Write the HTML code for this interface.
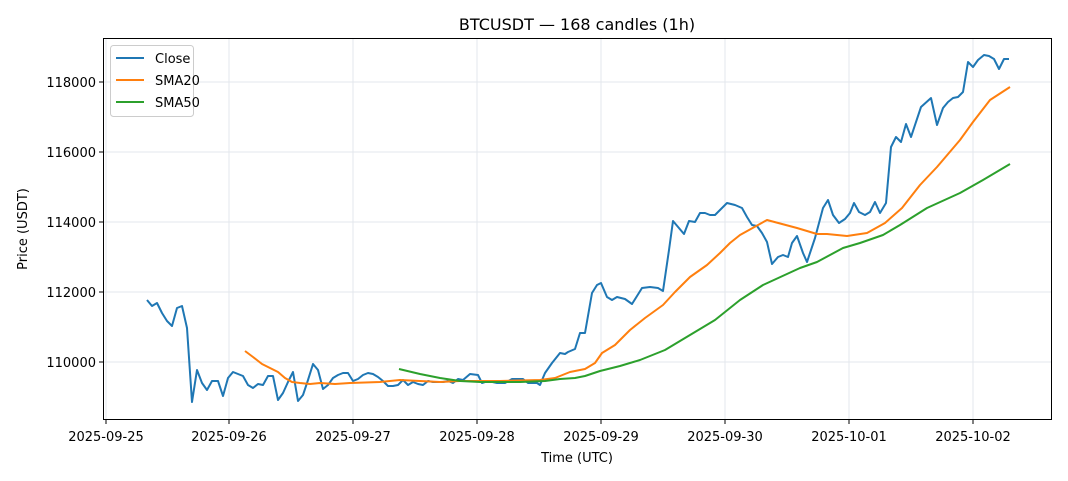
<!DOCTYPE html>
<html><head><meta charset="utf-8"><style>body{margin:0;background:#fff}svg{display:block;font-family:"DejaVu Sans","Liberation Sans",sans-serif}</style></head><body>
<svg width="1068" height="481" viewBox="0 0 1068 481">
<rect width="1068" height="481" fill="#fff"/>
<g stroke="#e3e7ec" stroke-width="1">
<line x1="106" y1="38" x2="106" y2="420"/><line x1="229" y1="38" x2="229" y2="420"/><line x1="353" y1="38" x2="353" y2="420"/><line x1="477" y1="38" x2="477" y2="420"/><line x1="601" y1="38" x2="601" y2="420"/><line x1="725" y1="38" x2="725" y2="420"/><line x1="849" y1="38" x2="849" y2="420"/><line x1="973" y1="38" x2="973" y2="420"/>
<line x1="103" y1="82" x2="1052" y2="82"/><line x1="103" y1="152" x2="1052" y2="152"/><line x1="103" y1="222" x2="1052" y2="222"/><line x1="103" y1="292" x2="1052" y2="292"/><line x1="103" y1="362" x2="1052" y2="362"/>
</g>
<g fill="none" stroke-width="2" stroke-linejoin="round">
<polyline stroke="#1f77b4" points="147,300 152,306 157,303 162,313 167,321 172,326 177,308 182,306 187,328 192,402 197,370 202,383 207,390 212,381 218,381 223,396 228,378 233,372 238,374 243,376 248,385 253,388 258,384 263,385 268,376 273,376 278,400 283,393 288,382 293,372 298,401 303,395 308,380 313,364 318,370 323,389 328,385 333,378 338,375 343,373 348,373 353,381 358,379 363,375 368,373 373,374 378,377 383,381 388,386 393,386 398,385 403,380 408,385 413,382 418,384 423,385 428,381 433,382 438,382 443,382 448,381 453,383 458,379 463,380 470,374 478,375 482,383 488,381 497,383 505,383 512,379 523,379 528,383 537,383 540,385 545,373 552,363 560,353 565,354 568,352 575,349 580,333 585,333 592,293 597,285 601,283 607,297 612,300 617,297 625,299 632,304 642,288 650,287 658,288 663,291 669,250 673,221 684,234 689,221 695,222 700,213 705,213 710,215 715,215 720,210 727,203 735,205 742,208 747,217 752,225 757,226 762,233 767,242 772,264 778,257 783,255 788,257 792,243 797,236 803,253 807,262 815,238 823,208 828,200 833,215 839,223 845,219 850,213 854,203 859,212 865,215 870,212 875,202 880,213 886,203 891,147 896,137 901,142 906,124 911,137 921,107 931,98 937,125 943,108 948,102 953,98 958,97 963,92 968,62 973,67 978,60 984,55 989,56 994,59 999,69 1004,59 1009,59"/>
<polyline stroke="#ff7f0e" points="245,351 253,357 262,364 270,368 278,372 285,378 292,382 300,383 310,384 320,383 335,384 350,383 380,382 400,380 420,381 440,382 460,381 500,381 540,380 555,378 570,372 585,369 595,363 602,353 615,345 630,330 645,318 663,305 675,292 690,277 707,265 720,253 730,243 740,235 767,220 797,228 817,234 827,234 847,236 867,233 885,223 902,208 920,185 937,167 960,140 973,122 990,100 1010,87"/>
<polyline stroke="#2ca02c" points="399,369 420,374 440,378 460,381 480,382 520,382 545,381 560,379 575,378 585,376 600,371 620,366 640,360 665,350 690,335 715,320 730,308 740,300 763,285 800,268 817,262 843,248 860,243 883,235 900,225 927,208 960,193 983,180 1010,164"/>
</g>
<rect x="103.5" y="38.5" width="948" height="381" fill="none" stroke="#000" stroke-width="1"/>
<g stroke="#000"><line x1="106" y1="420" x2="106" y2="424"/><line x1="229" y1="420" x2="229" y2="424"/><line x1="353" y1="420" x2="353" y2="424"/><line x1="477" y1="420" x2="477" y2="424"/><line x1="601" y1="420" x2="601" y2="424"/><line x1="725" y1="420" x2="725" y2="424"/><line x1="849" y1="420" x2="849" y2="424"/><line x1="973" y1="420" x2="973" y2="424"/>
<line x1="99" y1="82" x2="103" y2="82"/><line x1="99" y1="152" x2="103" y2="152"/><line x1="99" y1="222" x2="103" y2="222"/><line x1="99" y1="292" x2="103" y2="292"/><line x1="99" y1="362" x2="103" y2="362"/></g>
<g font-size="13" fill="#000" text-anchor="middle">
<text x="106" y="441">2025-09-25</text><text x="229" y="441">2025-09-26</text><text x="353" y="441">2025-09-27</text><text x="477" y="441">2025-09-28</text><text x="601" y="441">2025-09-29</text><text x="725" y="441">2025-09-30</text><text x="849" y="441">2025-10-01</text><text x="973" y="441">2025-10-02</text>
<text x="577" y="462">Time (UTC)</text>
<text x="577" y="30" font-size="16">BTCUSDT — 168 candles (1h)</text>
<text transform="translate(27,229) rotate(-90)">Price (USDT)</text>
</g>
<g font-size="13" text-anchor="end"><text x="96" y="87">118000</text><text x="96" y="157">116000</text><text x="96" y="227">114000</text><text x="96" y="297">112000</text><text x="96" y="367">110000</text></g>
<rect x="110.5" y="45.5" width="83" height="71" rx="3" fill="#fff" fill-opacity="0.8" stroke="#ccc"/>
<g stroke-width="2"><line x1="116" y1="58" x2="144" y2="58" stroke="#1f77b4"/><line x1="116" y1="80" x2="144" y2="80" stroke="#ff7f0e"/><line x1="116" y1="102" x2="144" y2="102" stroke="#2ca02c"/></g>
<g font-size="13"><text x="155" y="63">Close</text><text x="155" y="85">SMA20</text><text x="155" y="107">SMA50</text></g>
</svg>
</body></html>
